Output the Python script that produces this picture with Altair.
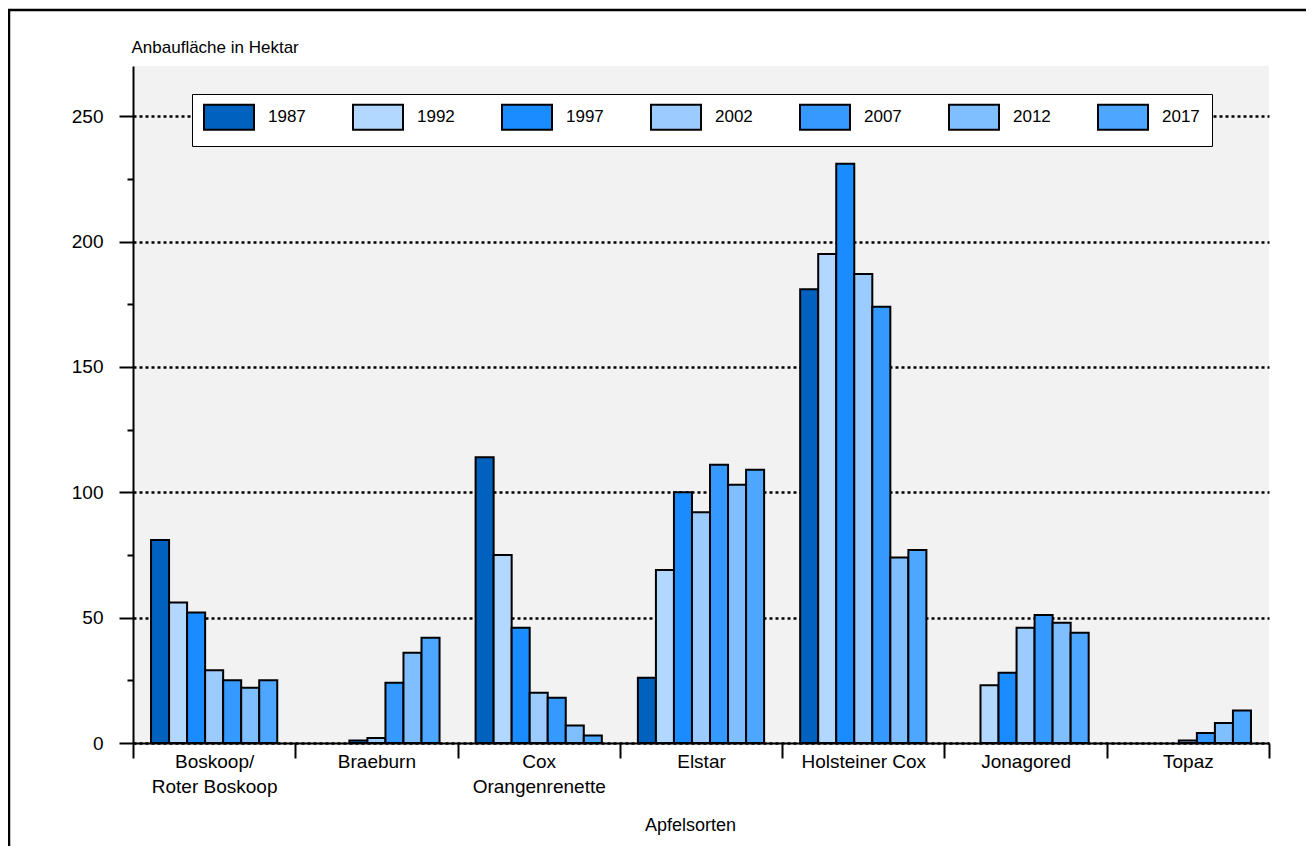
import altair as alt
import pandas as pd

# ---- data ----
categories = ["Boskoop/\nRoter Boskoop", "Braeburn", "Cox\nOrangenrenette", "Elstar",
              "Holsteiner Cox", "Jonagored", "Topaz"]
years = ["1987", "1992", "1997", "2002", "2007", "2012", "2017"]
colors = ["#0062be", "#b3d8ff", "#1a8cff", "#9ccbff", "#3699ff", "#80bfff", "#4da6ff"]

boskoop = [81, 56, 52, 29, 25, 22, 25]
braeburn = [None, None, 1, 2, 24, 36, 42]
cox = [114, 75, 46, 20, 18, 7, 3]
elstar = [26, 69, 100, 92, 111, 103, 109]
holsteiner = [181, 195, 231, 187, 174, 74, 77]
jonagored = [None, 23, 28, 46, 51, 48, 44]
topaz = [None, None, None, 1, 4, 8, 13]

series = [boskoop, braeburn, cox, elstar, holsteiner, jonagored, topaz]
rows = []
for cat, vals in zip(categories, series):
    for yr, v in zip(years, vals):
        if v is not None:
            rows.append({"Sorte": cat, "Jahr": yr, "Hektar": v})
df = pd.DataFrame(rows)

FONT = "Liberation Sans, Arial, sans-serif"
legend_path = "M-1.1,-1.25H3.9V1.25H-1.1Z"

bars = alt.Chart(df).mark_bar(stroke="black", strokeWidth=2, opacity=1).encode(
    x=alt.X(
        "Sorte:N", sort=categories,
        scale=alt.Scale(paddingInner=0, paddingOuter=0),
        axis=alt.Axis(
            title="Apfelsorten", labelAngle=0, tickBand="extent", grid=False,
            tickSize=15, labelPadding=-6, labelBaseline="top", labelLineHeight=25,
            labelFontSize=19, labelExpr="split(datum.label, '\\n')",
            titleFontSize=18, titleY=87, titleX=557, titleBaseline="alphabetic",
        ),
    ),
    xOffset=alt.XOffset("Jahr:N", sort=years,
                        scale=alt.Scale(paddingInner=0, paddingOuter=1)),
    y=alt.Y(
        "Hektar:Q",
        scale=alt.Scale(domain=[0, 270], nice=False),
        axis=alt.Axis(
            title="Anbaufläche in Hektar", titleAngle=0, titleAlign="left",
            titleBaseline="alphabetic", titleX=-2, titleY=-14, titleFontSize=17,
            values=list(range(0, 251, 25)),
            labelExpr="datum.value % 50 === 0 ? datum.label : ''",
            tickSize={"condition": {"test": "datum.value % 50 !== 0", "value": 6}, "value": 14},
            gridOpacity={"condition": {"test": "datum.value % 50 !== 0", "value": 0}, "value": 1},
            labelPadding=16, labelFontSize=19, grid=True,
        ),
    ),
    color=alt.Color(
        "Jahr:N", sort=years,
        scale=alt.Scale(domain=years, range=colors),
        legend=alt.Legend(
            title=None, orient="none", legendX=59, legendY=28, direction="horizontal",
            symbolType=legend_path, symbolSize=400, symbolStrokeColor="black",
            symbolStrokeWidth=2, symbolOpacity=1, labelOffset=42, labelFont=FONT,
            labelFontSize=17, labelColor="black", columnPadding=43, rowPadding=0,
            padding=12, strokeColor="black", fillColor="white",
        ),
    ),
)

frame = alt.Chart(pd.DataFrame({"k": [0]})).mark_rect(
    fillOpacity=0, stroke="black", strokeWidth=2.5
).encode(
    x=alt.value(-124), x2=alt.value(1300), y=alt.value(-56), y2=alt.value(900)
)

chart = alt.layer(frame, bars).properties(
    width=1136, height=677,
    autosize=alt.AutoSizeParams(type="none"),
    padding={"left": 125, "top": 58, "right": 37, "bottom": 103},
).configure_view(
    fill="#f2f2f2", strokeWidth=0
).configure_axis(
    labelFont=FONT, titleFont=FONT, labelColor="black", titleColor="black",
    titleFontWeight="normal", domainColor="black", domainWidth=2,
    tickColor="black", tickWidth=2, gridColor="black", gridDash=[3, 3], gridWidth=2.5,
)

chart.save("out.html", embed_options={"renderer": "svg", "actions": False})
